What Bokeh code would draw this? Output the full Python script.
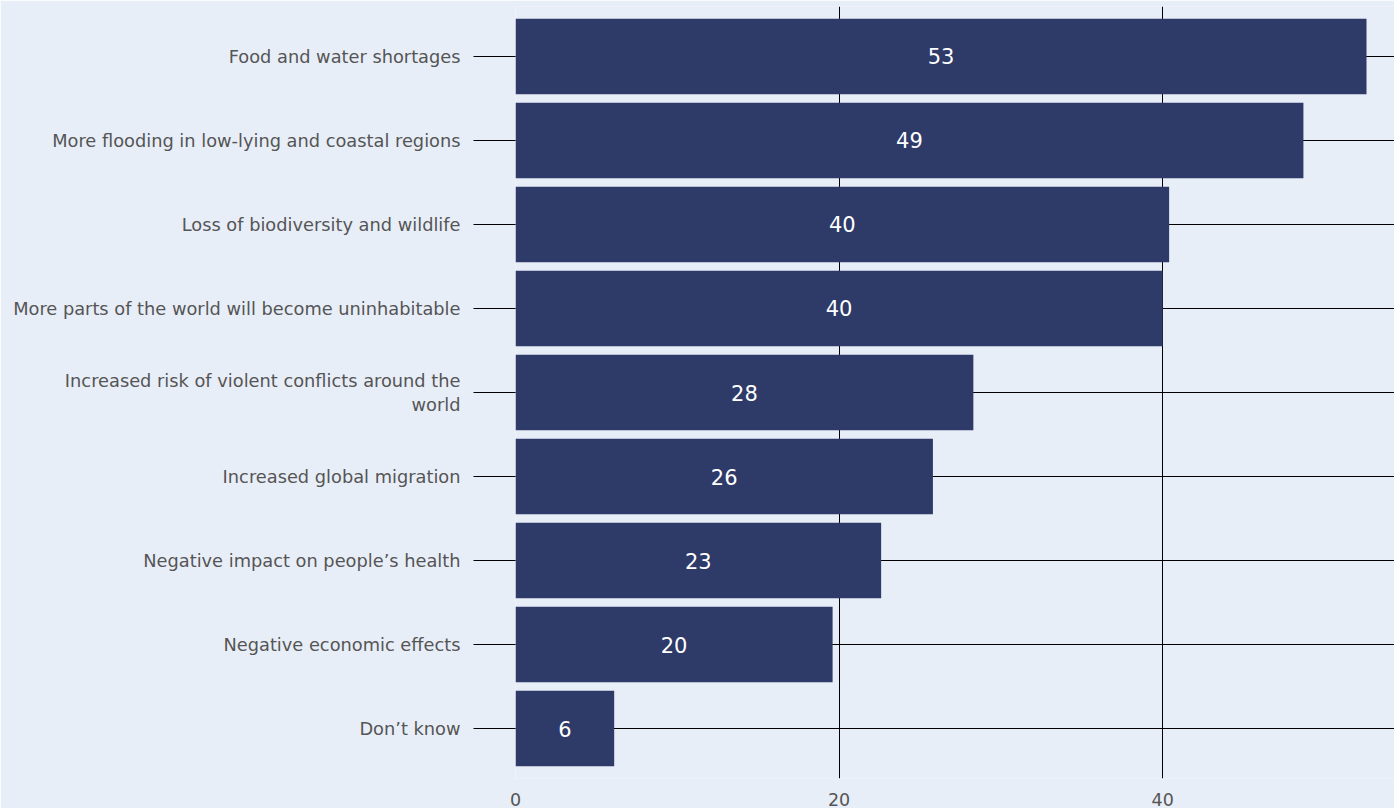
from bokeh.plotting import figure
from bokeh.models import Range1d, FixedTicker, ColumnDataSource
from bokeh.embed import file_html
from bokeh.resources import INLINE
from bokeh.core.properties import value

categories = [
    "Food and water shortages",
    "More flooding in low-lying and coastal regions",
    "Loss of biodiversity and wildlife",
    "More parts of the world will become uninhabitable",
    "Increased risk of violent conflicts around the\nworld",
    "Increased global migration",
    "Negative impact on people\u2019s health",
    "Negative economic effects",
    "Don\u2019t know",
]
values = [52.6, 48.7, 40.4, 40.0, 28.3, 25.8, 22.6, 19.6, 6.1]
value_labels = ["53", "49", "40", "40", "28", "26", "23", "20", "6"]
x_ticks = [0, 20, 40]

BG = "#e8eef8"
BAR = "#2e3a68"
FONT = "DejaVu Sans"

idx = list(range(len(categories)))
src = ColumnDataSource(dict(
    y=idx,
    right=values,
    mid=[v / 2 for v in values],
    lab=value_labels,
))

p = figure(
    width=1394, height=808,
    output_backend="svg", toolbar_location=None,
    x_range=Range1d(0, 54.33),
    y_range=Range1d(len(categories) - 1 + 0.595, -0.595),
    min_border_left=515, min_border_right=0,
    min_border_top=6, min_border_bottom=30,
    background_fill_color=BG, border_fill_color=BG,
    outline_line_color=None,
)

p.hbar(y="y", left=0, right="right", height=0.9, source=src,
       fill_color=BAR, line_color=None)
p.text(x="mid", y="y", text="lab", source=src,
       text_align="center", text_baseline="middle",
       text_color="white", text_font_size="21px",
       text_font=value(FONT))

# x axis
p.xaxis.ticker = FixedTicker(ticks=x_ticks)
p.xaxis.axis_line_color = None
p.xaxis.major_tick_line_color = None
p.xaxis.minor_tick_line_color = None
p.xaxis.major_tick_out = 0
p.xaxis.major_tick_in = 0
p.xaxis.major_label_standoff = 14
p.xaxis.major_label_text_line_height = 0.8
p.xaxis.major_label_text_font = FONT
p.xaxis.major_label_text_font_size = "17.5px"
p.xaxis.major_label_text_color = "#555555"

# y axis
p.yaxis.ticker = FixedTicker(ticks=idx)
p.yaxis.major_label_overrides = {i: c for i, c in enumerate(categories)}
p.yaxis.axis_line_color = None
p.yaxis.minor_tick_line_color = None
p.yaxis.major_tick_out = 42
p.yaxis.major_tick_in = 0
p.yaxis.major_tick_line_color = "black"
p.yaxis.major_tick_line_width = 1
p.yaxis.major_label_standoff = 13
p.yaxis.major_label_text_line_height = 1.1
p.yaxis.major_label_text_font = FONT
p.yaxis.major_label_text_font_size = "17.8px"
p.yaxis.major_label_text_color = "#555555"

# grids
p.xgrid.ticker = FixedTicker(ticks=x_ticks)
p.xgrid.grid_line_color = "black"
p.xgrid.grid_line_width = 1
p.ygrid.ticker = FixedTicker(ticks=idx)
p.ygrid.grid_line_color = "black"
p.ygrid.grid_line_width = 1

open("out.html", "w").write(file_html(p, INLINE))
